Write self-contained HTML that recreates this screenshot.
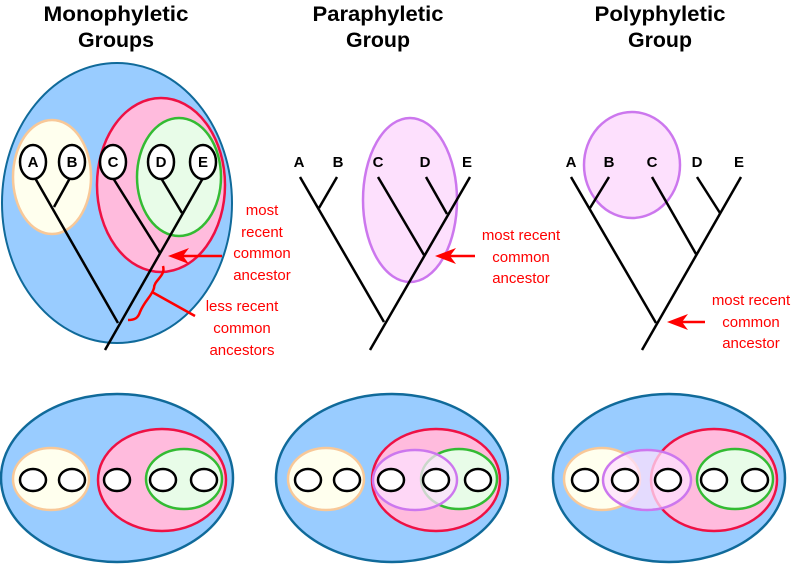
<!DOCTYPE html>
<html><head><meta charset="utf-8"><style>body{margin:0;background:#fff}svg{display:block}</style></head><body>
<svg width="800" height="564" viewBox="0 0 800 564" xmlns="http://www.w3.org/2000/svg" font-family="Liberation Sans, sans-serif">
<g font-weight="bold" font-size="21" text-anchor="middle" fill="#000">
<text x="116" y="21" textLength="145" lengthAdjust="spacingAndGlyphs">Monophyletic</text>
<text x="116" y="47" textLength="76" lengthAdjust="spacingAndGlyphs">Groups</text>
<text x="378" y="21" textLength="131" lengthAdjust="spacingAndGlyphs">Paraphyletic</text>
<text x="378" y="47" textLength="64" lengthAdjust="spacingAndGlyphs">Group</text>
<text x="660" y="21" textLength="131" lengthAdjust="spacingAndGlyphs">Polyphyletic</text>
<text x="660" y="47" textLength="64" lengthAdjust="spacingAndGlyphs">Group</text>
</g>
<!-- top left -->
<ellipse cx="117" cy="203" rx="115" ry="140" fill="#99ccff" stroke="#106a9a" stroke-width="2"/>
<ellipse cx="52" cy="177" rx="39" ry="57" fill="#ffffee" stroke="#f8c898" stroke-width="2.5"/>
<ellipse cx="161" cy="185" rx="64" ry="87" fill="#ffbbdd" stroke="#ee1144" stroke-width="2.5"/>
<ellipse cx="179" cy="177" rx="42" ry="59" fill="#e8fce8" stroke="#33bb33" stroke-width="2.5"/>
<g stroke="#000" stroke-width="2.5" fill="none">
<line x1="35" y1="178" x2="118" y2="323"/><line x1="70" y1="178" x2="54" y2="207"/>
<line x1="203" y1="178" x2="105" y2="350"/><line x1="113" y1="178" x2="160" y2="253"/><line x1="161" y1="178" x2="182" y2="213"/>
</g>
<g stroke="#000" stroke-width="2.5" fill="#fff">
<ellipse cx="33" cy="162" rx="13" ry="17"/><ellipse cx="72" cy="162" rx="13" ry="17"/><ellipse cx="113" cy="162" rx="13" ry="17"/><ellipse cx="161" cy="162" rx="13" ry="17"/><ellipse cx="203" cy="162" rx="13" ry="17"/>
</g>
<g font-weight="bold" font-size="15" text-anchor="middle"><text x="33" y="167">A</text><text x="72" y="167">B</text><text x="113" y="167">C</text><text x="161" y="167">D</text><text x="203" y="167">E</text></g>
<g stroke="#f00" stroke-width="2.5" fill="none">
<line x1="222" y1="256" x2="182" y2="256"/>
<path d="M163,266 C166,276 154,280 154,288 C152,296 145,300 140,312 C138,318 135,320 128,320"/>
<line x1="152" y1="292" x2="195" y2="316"/>
</g>
<polygon points="168,256 189,248 183,256 189,264" fill="#f00"/>
<g fill="#f00" font-size="15" text-anchor="middle">
<text x="262" y="215">most</text><text x="262" y="237">recent</text><text x="262" y="258">common</text><text x="262" y="280">ancestor</text>
<text x="242" y="311">less recent</text><text x="242" y="333">common</text><text x="242" y="355">ancestors</text>
</g>
<!-- middle top -->
<ellipse cx="410" cy="200" rx="47" ry="82" fill="#fde0fd" stroke="#cc77ee" stroke-width="2.5"/>
<g stroke="#000" stroke-width="2.5">
<line x1="300" y1="177" x2="384" y2="322"/><line x1="337" y1="177" x2="319" y2="208"/>
<line x1="470" y1="177" x2="370" y2="350"/><line x1="378" y1="177" x2="424" y2="255"/><line x1="426" y1="177" x2="447" y2="214"/>
</g>
<g font-weight="bold" font-size="15" text-anchor="middle"><text x="299" y="167">A</text><text x="338" y="167">B</text><text x="378" y="167">C</text><text x="425" y="167">D</text><text x="467" y="167">E</text></g>
<line x1="475" y1="256" x2="450" y2="256" stroke="#f00" stroke-width="2.5"/>
<polygon points="435,256 456,248 450,256 456,264" fill="#f00"/>
<g fill="#f00" font-size="15" text-anchor="middle"><text x="521" y="240">most recent</text><text x="521" y="262">common</text><text x="521" y="283">ancestor</text></g>
<!-- right top -->
<ellipse cx="632" cy="165" rx="48" ry="53" fill="#fde0fd" stroke="#cc77ee" stroke-width="2.5"/>
<g stroke="#000" stroke-width="2.5">
<line x1="571" y1="177" x2="656" y2="323"/><line x1="609" y1="177" x2="590" y2="208"/>
<line x1="741" y1="177" x2="642" y2="350"/><line x1="652" y1="177" x2="696" y2="254"/><line x1="697" y1="177" x2="720" y2="213"/>
</g>
<g font-weight="bold" font-size="15" text-anchor="middle"><text x="571" y="167">A</text><text x="609" y="167">B</text><text x="652" y="167">C</text><text x="697" y="167">D</text><text x="739" y="167">E</text></g>
<line x1="705" y1="322" x2="682" y2="322" stroke="#f00" stroke-width="2.5"/>
<polygon points="667,322 688,314 682,322 688,330" fill="#f00"/>
<g fill="#f00" font-size="15" text-anchor="middle"><text x="751" y="305">most recent</text><text x="751" y="327">common</text><text x="751" y="348">ancestor</text></g>
<!-- bottom -->
<g stroke-width="2.5">
<ellipse cx="117" cy="478" rx="116" ry="84" fill="#99ccff" stroke="#106a9a"/>
<ellipse cx="51" cy="479" rx="38" ry="31" fill="#ffffee" stroke="#f8c898"/>
<ellipse cx="162" cy="480" rx="64" ry="51" fill="#ffbbdd" stroke="#ee1144"/>
<ellipse cx="184" cy="479" rx="38" ry="30" fill="#e8fce8" stroke="#33bb33"/>

<ellipse cx="392" cy="478" rx="116" ry="84" fill="#99ccff" stroke="#106a9a"/>
<ellipse cx="326" cy="479" rx="38" ry="31" fill="#ffffee" stroke="#f8c898"/>
<ellipse cx="436" cy="480" rx="64" ry="51" fill="#ffbbdd" stroke="#ee1144"/>
<ellipse cx="459" cy="479" rx="38" ry="30" fill="#e8fce8" stroke="#33bb33"/>
<ellipse cx="415" cy="480" rx="42" ry="30" fill="#fde0fd" fill-opacity="0.75" stroke="#cc77ee"/>

<ellipse cx="669" cy="478" rx="116" ry="84" fill="#99ccff" stroke="#106a9a"/>
<ellipse cx="602" cy="479" rx="38" ry="31" fill="#ffffee" stroke="#f8c898"/>
<ellipse cx="714" cy="480" rx="63" ry="51" fill="#ffbbdd" stroke="#ee1144"/>
<ellipse cx="735" cy="479" rx="38" ry="30" fill="#e8fce8" stroke="#33bb33"/>
<ellipse cx="647" cy="480" rx="44" ry="30" fill="#fde0fd" fill-opacity="0.75" stroke="#cc77ee"/>
</g>
<g stroke="#000" stroke-width="2.5" fill="#fff">
<ellipse cx="33" cy="480" rx="13" ry="11"/><ellipse cx="72" cy="480" rx="13" ry="11"/><ellipse cx="117" cy="480" rx="13" ry="11"/><ellipse cx="163" cy="480" rx="13" ry="11"/><ellipse cx="204" cy="480" rx="13" ry="11"/>
<ellipse cx="308" cy="480" rx="13" ry="11"/><ellipse cx="347" cy="480" rx="13" ry="11"/><ellipse cx="391" cy="480" rx="13" ry="11"/><ellipse cx="436" cy="480" rx="13" ry="11"/><ellipse cx="478" cy="480" rx="13" ry="11"/>
<ellipse cx="585" cy="480" rx="13" ry="11"/><ellipse cx="625" cy="480" rx="13" ry="11"/><ellipse cx="668" cy="480" rx="13" ry="11"/><ellipse cx="714" cy="480" rx="13" ry="11"/><ellipse cx="755" cy="480" rx="13" ry="11"/>
</g>
</svg>
</body></html>
